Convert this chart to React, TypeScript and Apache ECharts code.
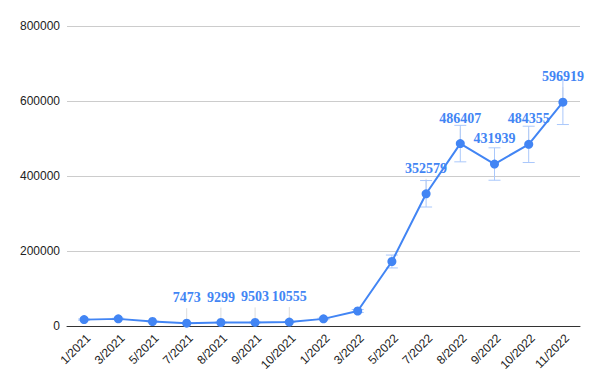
import React, { useEffect, useRef } from "react";
import * as echarts from "echarts";

const categories = [
  "1/2021", "3/2021", "5/2021", "7/2021", "8/2021", "9/2021", "10/2021",
  "1/2022", "3/2022", "5/2022", "7/2022", "8/2022", "9/2022", "10/2022", "11/2022",
];
const values = [
  17000, 19000, 12000, 7473, 9299, 9503, 10555,
  19000, 40000, 172000, 352579, 486407, 431939, 484355, 596919,
];
const labelled = [
  false, false, false, true, true, true, true,
  false, false, false, true, true, true, true, true,
];
const errorPercent = 10;
const yTicks = [0, 200000, 400000, 600000, 800000];

const BLUE = "#4285F4";
const ERR = "#aac8fb";

export default function App() {
  const ref = useRef<HTMLDivElement>(null);
  useEffect(() => {
    document.body.style.margin = "0";
    const chart = echarts.init(ref.current!, null, { renderer: "svg" });
    const option: any = {
      animation: false,
      backgroundColor: "#ffffff",
      grid: { left: 67, right: 20, top: 26, bottom: 63 },
      xAxis: {
        type: "category",
        data: categories,
        boundaryGap: true,
        axisLine: { show: true, lineStyle: { color: "#333333", width: 1 } },
        axisTick: { show: false },
        axisLabel: {
          rotate: 45,
          interval: 0,
          margin: 6,
          verticalAlign: "top",
          color: "#222222",
          fontSize: 12,
          fontFamily: "Liberation Sans, Arial, sans-serif",
        },
      },
      yAxis: {
        type: "value",
        min: yTicks[0],
        max: yTicks[yTicks.length - 1],
        interval: yTicks[1] - yTicks[0],
        axisLine: { show: false },
        axisTick: { show: false },
        splitLine: { lineStyle: { color: "#cccccc", width: 1 } },
        axisLabel: {
          color: "#222222",
          fontSize: 12,
          margin: 7,
          formatter: (v: number) => String(v),
          fontFamily: "Liberation Sans, Arial, sans-serif",
        },
      },
      series: [
        {
          type: "custom",
          z: 1,
          silent: true,
          data: values.map((v, i) => [i, v, labelled[i] ? 1 : 0]),
          renderItem: (params: any, api: any) => {
            const x = api.value(0);
            const v = api.value(1);
            const lab = api.value(2);
            const c = api.coord([x, v]);
            const hi = api.coord([x, v * (1 + errorPercent / 100)]);
            const lo = api.coord([x, v * (1 - errorPercent / 100)]);
            const cap = 6;
            const children: any[] = [];
            if (lab) {
              children.push({
                type: "line",
                shape: { x1: c[0], y1: c[1], x2: c[0], y2: c[1] - 15 },
                style: { stroke: "#dddddd", lineWidth: 1 },
              });
            }
            children.push(
              {
                type: "line",
                shape: { x1: c[0], y1: hi[1], x2: c[0], y2: lo[1] },
                style: { stroke: ERR, lineWidth: 1 },
              },
              {
                type: "line",
                shape: { x1: c[0] - cap, y1: hi[1], x2: c[0] + cap, y2: hi[1] },
                style: { stroke: ERR, lineWidth: 1 },
              },
              {
                type: "line",
                shape: { x1: c[0] - cap, y1: lo[1], x2: c[0] + cap, y2: lo[1] },
                style: { stroke: ERR, lineWidth: 1 },
              }
            );
            return { type: "group", children };
          },
        },
        {
          type: "line",
          z: 3,
          data: values.map((v, i) => ({
            value: v,
            label: { show: labelled[i] },
          })),
          symbol: "circle",
          symbolSize: 9,
          itemStyle: { color: BLUE },
          lineStyle: { color: BLUE, width: 2 },
          label: {
            show: false,
            position: "top",
            distance: 14,
            color: BLUE,
            fontSize: 14,
            fontWeight: "bold",
            fontFamily: "Liberation Serif, Times New Roman, serif",
          },
        },
      ],
    };
    chart.setOption(option);
    return () => chart.dispose();
  }, []);
  return <div ref={ref} style={{ width: 600, height: 389 }} />;
}
